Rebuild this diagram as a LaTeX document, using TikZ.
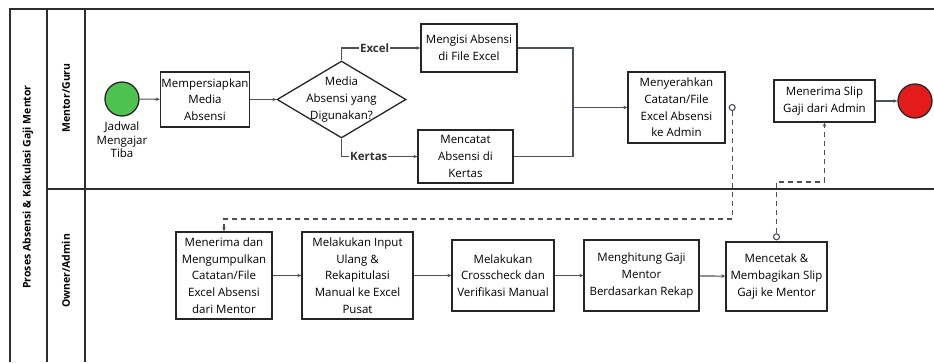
\documentclass[tikz,border=0pt]{standalone}
\usepackage{fontspec}
\setmainfont{Open Sans}
\usetikzlibrary{shapes.geometric,arrows.meta,positioning}

\definecolor{lanegray}{HTML}{2E2E2E}
\definecolor{flowgray}{HTML}{4A505C}
\definecolor{startgreen}{HTML}{4DC24F}
\definecolor{endred}{HTML}{E31B1B}

\begin{document}
\begin{tikzpicture}[x=1pt,y=-1pt,
    font=\fontsize{11.5}{16.7}\selectfont,
    lane/.style={draw=lanegray,line width=1.6pt},
    task/.style={draw=black!85,line width=1.3pt,align=center,inner sep=1pt},
    gate/.style={diamond,draw=black!85,line width=1.3pt,inner sep=0pt,minimum width=129pt,minimum height=77pt},
    event/.style={circle,draw=black!85,line width=1.3pt,minimum size=34pt,inner sep=0pt},
    flow/.style={draw=flowgray,line width=1.1pt,-{Stealth[length=4pt,width=3.5pt]}},
    msg/.style={flow,dashed,dash pattern=on 5pt off 4pt},
    msgdot/.style={circle,draw=flowgray,line width=1.1pt,fill=white,minimum size=6pt,inner sep=0pt},
    elabel/.style={fill=white,inner sep=1pt,font=\fontsize{11.5}{12}\selectfont\bfseries,text=black!80}]
    \useasboundingbox (0,0) rectangle (934,362);

    % pool and lanes
    \draw[lane] (10,362) -- (10,9) -- (934,9);
    \draw[lane] (47,9) -- (47,362);
    \draw[lane] (85,9) -- (85,362);
    \draw[lane] (47,189) -- (934,189);
    \node[rotate=90,font=\fontsize{10.5}{12}\selectfont\bfseries] (pool) at (28,187) {Proses Absensi \& Kalkulasi Gaji Mentor};
    \node[rotate=90,font=\fontsize{10.5}{12}\selectfont\bfseries] (laneguru) at (66,98) {Mentor/Guru};
    \node[rotate=90,font=\fontsize{10.5}{12}\selectfont\bfseries] (laneadmin) at (66,271) {Owner/Admin};

    % Mentor/Guru
    \node[event,fill=startgreen] (start) at (122,99) {};
    \node[below=2pt of start,align=center,font=\fontsize{11.5}{13.5}\selectfont] (startlbl) {Jadwal\\Mengajar\\Tiba};
    \node[task,minimum width=86pt,minimum height=55pt] (prep) at (205,99.5) {Mempersiapkan\\Media\\Absensi};
    \node[gate] (media) at (341.5,99.5) {};
    \node[align=center] (medialbl) at (media) {Media\\Absensi yang\\Digunakan?};
    \node[task,minimum width=96pt,minimum height=48pt] (excel) at (469,48) {Mengisi Absensi\\di File Excel};
    \node[task,minimum width=95pt,minimum height=53pt] (kertas) at (465.5,156.5) {Mencatat\\Absensi di\\Kertas};
    \node[task,minimum width=97pt,minimum height=71pt] (serah) at (676.5,107.5) {Menyerahkan\\Catatan/File\\Excel Absensi\\ke Admin};
    \node[task,minimum width=101pt,minimum height=42pt] (slip) at (824.5,101) {Menerima Slip\\Gaji dari Admin};
    \node[event,fill=endred] (finish) at (915,101) {};
    \coordinate (join) at (573,107.5);

    \draw[flow] (start) -- (prep);
    \draw[flow] (prep) -- (media);
    \draw[flow] (media.north) |- node[elabel,pos=0.71] {Excel} (excel);
    \draw[flow] (media.south) |- node[elabel,pos=0.68] {Kertas} (kertas);
    \draw[draw=flowgray,line width=1.1pt] (excel) -| (join);
    \draw[draw=flowgray,line width=1.1pt] (kertas) -| (join);
    \draw[flow] (join) -- (serah);
    \draw[flow] (slip) -- (finish);

    % Owner/Admin
    \node[task,minimum width=96pt,minimum height=87pt] (terima) at (224,275.5) {Menerima dan\\Mengumpulkan\\Catatan/File\\Excel Absensi\\dari Mentor};
    \node[task,minimum width=111pt,minimum height=87pt] (input) at (357.5,275.5) {Melakukan Input\\Ulang \&\\Rekapitulasi\\Manual ke Excel\\Pusat};
    \node[task,minimum width=102pt,minimum height=71pt] (cek) at (503,275.5) {Melakukan\\Crosscheck dan\\Verifikasi Manual};
    \node[task,minimum width=115pt,minimum height=71pt] (hitung) at (641.5,275.5) {Menghitung Gaji\\Mentor\\Berdasarkan Rekap};
    \node[task,minimum width=101pt,minimum height=69pt] (cetak) at (776.5,276.5) {Mencetak \&\\Membagikan Slip\\Gaji ke Mentor};

    \draw[flow] (terima) -- (input);
    \draw[flow] (input) -- (cek);
    \draw[flow] (cek) -- (hitung);
    \draw[flow] (hitung) -- (cetak);

    % message flows
    \node[msgdot,right=3pt of serah] (m1) {};
    \coordinate (bend1) at (m1 |- 0,219);
    \draw[msg] (m1.south) -- (bend1) -| (terima.north);
    \node[msgdot,above=1pt of cetak] (m2) {};
    \coordinate (bend2) at (m2 |- 0,182);
    \draw[msg] (m2.north) -- (bend2) -| (slip.south);
\end{tikzpicture}
\end{document}
